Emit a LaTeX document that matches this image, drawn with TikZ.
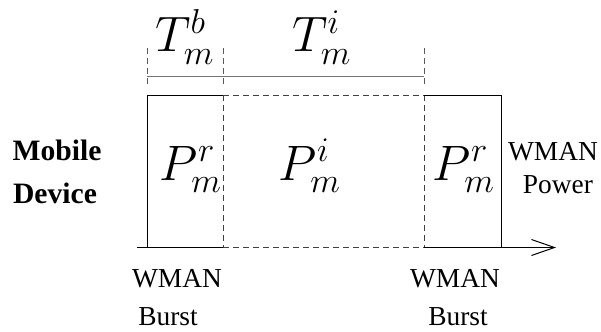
\documentclass[tikz,border=0pt]{standalone}
\usepackage{fontspec}
\setmainfont{Liberation Serif}
\usetikzlibrary{arrows.meta}

\begin{document}
\begin{tikzpicture}[x=0.5pt,y=-0.5pt,
  line width=0.5pt,
  sym/.style={anchor=base, inner sep=0pt, font=\fontsize{25.6}{30}\selectfont},
  txt/.style={anchor=base, inner sep=0pt, font=\fontsize{13.7}{16}\selectfont},
  hdr/.style={anchor=base, inner sep=0pt, font=\fontsize{14.8}{17}\selectfont\bfseries},
  edge/.style={draw=black},
  dsh/.style={draw=black!75, dash pattern=on 3pt off 2pt},
  tick/.style={draw=black!65, dash pattern=on 3pt off 2pt},
  dim/.style={draw=black!55},
]
\useasboundingbox (0,0) rectangle (601,332);

% slot corners
\coordinate (aT) at (147,95);  \coordinate (aB) at (147,247.5);
\coordinate (bT) at (223,95);  \coordinate (bB) at (223,247.5);
\coordinate (cT) at (424,95);  \coordinate (cB) at (424,247.5);
\coordinate (dT) at (501,95);  \coordinate (dB) at (501,247.5);
% time axis ends
\coordinate (ax0) at (137,247.5);
\coordinate (ax1) at (556,247.5);
% duration marks
\coordinate (t0) at (147,76);
\coordinate (t1) at (223,76);
\coordinate (t2) at (424,76);

% burst slots and idle slot
\draw[edge] (aB) -- (aT) -- (bT);
\draw[dsh] (bT) -- (cT);
\draw[dsh] (bT) -- (bB);
\draw[dsh] (cT) -- (cB);
\draw[edge] (cT) -- (dT) -- (dB);

% time axis
\draw[edge] (ax0) -- (bB);
\draw[dsh] (bB) -- (cB);
\draw[edge, -{Straight Barb[length=11.5pt,width=8pt]}] (cB) -- (ax1);

% durations
\draw[dim] (t0) -- (t2);
\foreach \t in {t0,t1,t2}
  \draw[tick] (\t) ++(0,-28) -- ++(0,38);
\node[sym] (tb) at (185,52) {$T^b_m$};
\node[sym] (ti) at (322,52) {$T^i_m$};

% power levels
\node[sym] (pr1) at (191,180) {$P^r_m$};
\node[sym] (pi) at (310,180) {$P^i_m$};
\node[sym] (pr2) at (464,180) {$P^r_m$};

% labels
\node[hdr] (mob) at (57,160) {Mobile};
\node[hdr] (devc) at (55,203) {Device};
\node[txt] (pw1) at (553,160) {WMAN};
\node[txt] (pw2) at (558,193) {Power};
\node[txt] (wm1) at (177,287) {WMAN};
\node[txt] (bu1) at (168,325) {Burst};
\node[txt] (wm2) at (455,287) {WMAN};
\node[txt] (bu2) at (458,325) {Burst};
\end{tikzpicture}
\end{document}
